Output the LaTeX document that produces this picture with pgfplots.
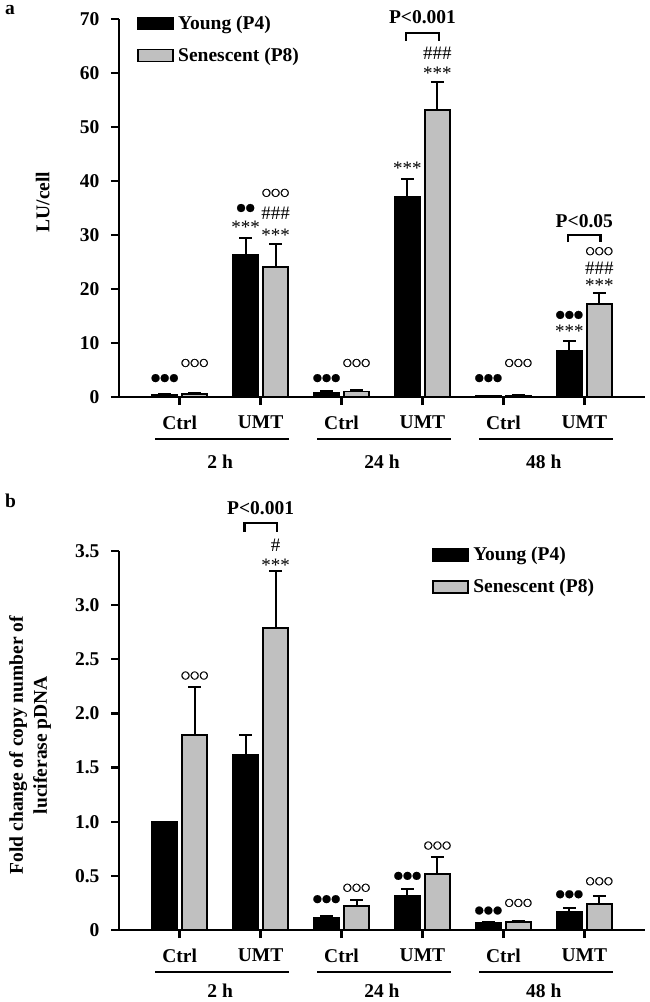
\documentclass[border=0pt]{standalone}
\usepackage{fontspec}
\setmainfont{Liberation Serif}
\newfontfamily\djv{DejaVu Sans}[FakeBold=1.5]
\usepackage{pgfplots}
\pgfplotsset{compat=1.18}
\usepackage{pgfplotstable}
\definecolor{sgray}{RGB}{192,192,192}
\newcommand\F{\fontsize{19.5}{24}\selectfont\bfseries}
\newcommand\A{\fontsize{19}{20}\selectfont}
\newcommand\C{\djv\fontsize{10.5}{12}\selectfont}

\pgfplotstableread{
x y e
0 0.35 0.12
1 26.3 3.2
2 0.8 0.25
3 37.0 3.4
4 0.2 0.05
5 8.5 1.8
}\aY
\pgfplotstableread{
x y e
0 0.55 0.2
1 24.1 4.2
2 1.05 0.3
3 53.1 5.3
4 0.3 0.05
5 17.2 2.0
}\aS
\pgfplotstableread{
x y e
0 1.0 0
1 1.62 0.18
2 0.115 0.015
3 0.32 0.06
4 0.065 0.01
5 0.165 0.035
}\bY
\pgfplotstableread{
x y e
0 1.80 0.44
1 2.79 0.53
2 0.22 0.055
3 0.52 0.15
4 0.072 0.01
5 0.24 0.07
}\bS

\pgfplotsset{
 mystyle/.style={
  scale only axis, width=526pt,
  axis lines=left, axis line style={line width=2.4pt, -},
  xmin=-0.75, xmax=5.75, xtick={0,...,5},
  xticklabels={Ctrl,UMT,Ctrl,UMT,Ctrl,UMT},
  tick style={line width=2.4pt, black}, major tick length=8pt, tick align=outside,
  ticklabel style={font=\F},
  xticklabel style={yshift=-7pt},
  yticklabel style={xshift=-8pt},
  ybar, bar width=25pt, clip=false,
  legend style={draw=none, fill=none, font=\F, inner sep=0pt, row sep=17pt,
     cells={anchor=west}, nodes={inner xsep=4.5pt, inner ysep=0pt}},
  legend cell align=left,
  legend image code/.code={\draw[line width=1.6pt, ##1] (0pt,-6pt) rectangle (35pt,6pt);},
 },
 yb/.style={fill=black, draw=black, line width=1.6pt, bar shift=-15pt,
   error bars/.cd, y dir=plus, y explicit,
   error bar style={line width=2pt, black},
   error mark options={rotate=90, mark size=6.5pt, line width=2pt, black}},
 sb/.style={fill=sgray, draw=black, line width=1.6pt, bar shift=15pt,
   error bars/.cd, y dir=plus, y explicit,
   error bar style={line width=2pt, black},
   error mark options={rotate=90, mark size=6.5pt, line width=2pt, black}},
}

\begin{document}
\begin{tikzpicture}[x=1pt,y=1pt]
\path[use as bounding box] (0,0) rectangle (649,-1002);
\node[font=\F, anchor=north west, inner sep=0pt] at (5,-5) {a};
\node[font=\F, anchor=north west, inner sep=0pt] at (5,-494) {b};

% ---------------- panel a
\begin{axis}[mystyle, at={(119pt,-397pt)}, anchor=south west, height=378pt,
  ymin=0, ymax=70, ytick={0,10,20,30,40,50,60,70},
  yticklabels={0,10,20,30,40,50,60,70},
  ylabel={LU/cell},
  every axis y label/.style={at={(axis description cs:-0.145,0.516)}, rotate=90, anchor=center, font=\F},
  legend style={at={(0.034,1.009)}, anchor=north west},
]
\addplot[yb] table[x=x, y=y, y error=e] {\aY};
\addplot[sb] table[x=x, y=y, y error=e] {\aS};
\legend{Young (P4), Senescent (P8)}
% group underlines
\draw[line width=2.4pt] ([yshift=-42pt]axis cs:-0.3,0) -- ([yshift=-42pt]axis cs:1.35,0);
\draw[line width=2.4pt] ([yshift=-42pt]axis cs:1.7,0) -- ([yshift=-42pt]axis cs:3.35,0);
\draw[line width=2.4pt] ([yshift=-42pt]axis cs:3.7,0) -- ([yshift=-42pt]axis cs:5.35,0);
\node[font=\F] at ([yshift=-65pt]axis cs:0.5,0) {2 h};
\node[font=\F] at ([yshift=-65pt]axis cs:2.5,0) {24 h};
\node[font=\F] at ([yshift=-65pt]axis cs:4.5,0) {48 h};
% annotations ctrl
\node at (axis cs:-0.185,3.5) {\C ●●●};
\node at (axis cs:0.185,6.3) {\C ○○○};
\node at (axis cs:1.815,3.5) {\C ●●●};
\node at (axis cs:2.185,6.3) {\C ○○○};
\node at (axis cs:3.815,3.5) {\C ●●●};
\node at (axis cs:4.185,6.3) {\C ○○○};
% 2h UMT
\node at (axis cs:0.815,35.0) {\C ●●};
\node at (axis cs:0.815,31.5) {\A ***};
\node at (axis cs:1.185,37.8) {\C ○○○};
\node at (axis cs:1.185,34.1) {\A \#\#\#};
\node at (axis cs:1.185,29.9) {\A ***};
% 24h UMT
\node at (axis cs:2.815,42.3) {\A ***};
\node at (axis cs:3.185,63.7) {\A \#\#\#};
\node at (axis cs:3.185,59.9) {\A ***};
\draw[line width=2.2pt] (axis cs:2.8,66.0) -- (axis cs:2.8,67.4) -- (axis cs:3.2,67.4) -- (axis cs:3.2,66.0);
\node[font=\F] at (axis cs:3.0,70.4) {P<0.001};
% 48h UMT
\node at (axis cs:4.815,15.2) {\C ●●●};
\node at (axis cs:4.815,12.1) {\A ***};
\node at (axis cs:5.185,27.0) {\C ○○○};
\node at (axis cs:5.185,23.9) {\A \#\#\#};
\node at (axis cs:5.185,20.6) {\A ***};
\draw[line width=2.2pt] (axis cs:4.8,28.7) -- (axis cs:4.8,30.0) -- (axis cs:5.2,30.0) -- (axis cs:5.2,28.7);
\node[font=\F] at (axis cs:5.0,32.6) {P<0.05};
\end{axis}

% ---------------- panel b
\begin{axis}[mystyle, at={(119pt,-930pt)}, anchor=south west, height=379pt,
  ymin=0, ymax=3.5, ytick={0,0.5,1,1.5,2,2.5,3,3.5},
  yticklabels={0,0.5,1.0,1.5,2.0,2.5,3.0,3.5},
  ylabel={Fold change of copy number of\\luciferase pDNA},
  every axis y label/.style={at={(axis description cs:-0.169,0.488)}, rotate=90, anchor=center, font=\F, align=center},
  legend style={at={(0.595,1.01)}, anchor=north west},
]
\addplot[yb] table[x=x, y=y, y error=e] {\bY};
\addplot[sb] table[x=x, y=y, y error=e] {\bS};
\legend{Young (P4), Senescent (P8)}
\draw[line width=2.4pt] ([yshift=-42pt]axis cs:-0.3,0) -- ([yshift=-42pt]axis cs:1.35,0);
\draw[line width=2.4pt] ([yshift=-42pt]axis cs:1.7,0) -- ([yshift=-42pt]axis cs:3.35,0);
\draw[line width=2.4pt] ([yshift=-42pt]axis cs:3.7,0) -- ([yshift=-42pt]axis cs:5.35,0);
\node[font=\F] at ([yshift=-61pt]axis cs:0.5,0) {2 h};
\node[font=\F] at ([yshift=-61pt]axis cs:2.5,0) {24 h};
\node[font=\F] at ([yshift=-61pt]axis cs:4.5,0) {48 h};
\node at (axis cs:0.185,2.35) {\C ○○○};
\node at (axis cs:1.185,3.37) {\A ***};
\node at (axis cs:1.185,3.55) {\A \#};
\draw[line width=2.2pt] (axis cs:0.8,3.68) -- (axis cs:0.8,3.76) -- (axis cs:1.2,3.76) -- (axis cs:1.2,3.68);
\node[font=\F] at (axis cs:1.0,3.9) {P<0.001};
\node at (axis cs:1.815,0.285) {\C ●●●};
\node at (axis cs:2.185,0.39) {\C ○○○};
\node at (axis cs:2.815,0.5) {\C ●●●};
\node at (axis cs:3.185,0.78) {\C ○○○};
\node at (axis cs:3.815,0.18) {\C ●●●};
\node at (axis cs:4.185,0.25) {\C ○○○};
\node at (axis cs:4.815,0.33) {\C ●●●};
\node at (axis cs:5.185,0.45) {\C ○○○};
\end{axis}
\end{tikzpicture}
\end{document}
